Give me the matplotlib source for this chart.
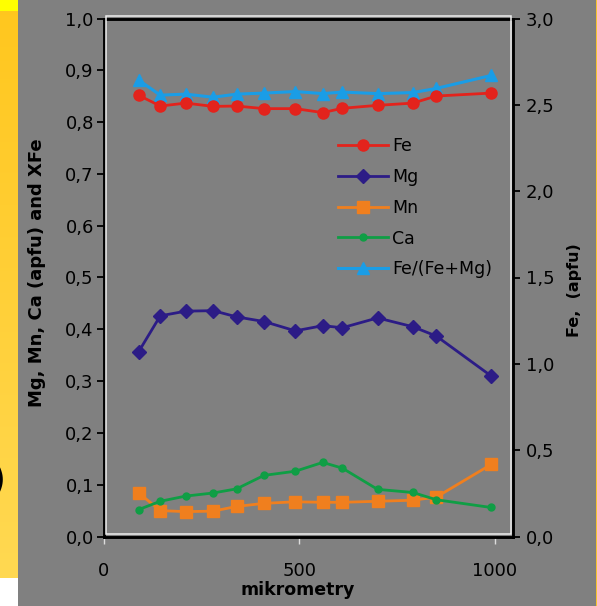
import matplotlib
matplotlib.use("Agg")
import matplotlib.pyplot as plt
import numpy as np
from matplotlib.lines import Line2D
from matplotlib.patches import Rectangle
from matplotlib.ticker import FuncFormatter, MultipleLocator

# ============================================================
# DATA (read from the profile)
# ============================================================

distance_um = [90, 145, 210, 280, 340, 410, 490, 560, 610, 700, 790, 850, 990]

fe_apfu = [2.555, 2.493, 2.510, 2.491, 2.493, 2.478, 2.478, 2.455, 2.480,
           2.497, 2.510, 2.551, 2.568]
mg_apfu = [0.357, 0.426, 0.435, 0.436, 0.424, 0.415, 0.397, 0.407, 0.403,
           0.422, 0.405, 0.387, 0.310]
mn_apfu = [0.084, 0.050, 0.048, 0.049, 0.058, 0.064, 0.067, 0.066, 0.066,
           0.068, 0.070, 0.076, 0.139]
ca_apfu = [0.052, 0.068, 0.078, 0.084, 0.092, 0.118, 0.126, 0.143, 0.132,
           0.091, 0.085, 0.071, 0.056]
xfe = [0.881, 0.852, 0.854, 0.848, 0.854, 0.856, 0.859, 0.855, 0.858,
       0.855, 0.857, 0.865, 0.890]

series_names = ["Fe", "Mg", "Mn", "Ca", "Fe/(Fe+Mg)"]

# ============================================================
# STYLE
# ============================================================

W, H = 597, 606
BG = "#808080"

RED = "#e3231c"
NAVY = "#2c1c86"
ORANGE = "#f07f1e"
GREEN = "#0f9e45"
SKY = "#1a9de6"


def fx(px):
    return px / W


def fy(py):
    return 1 - py / H


def comma(v, pos):
    return f"{v:.1f}".replace(".", ",")


fig = plt.figure(figsize=(W / 100, H / 100), dpi=100)
fig.patch.set_facecolor(BG)

# left slide strip (yellow gradient + white corner)
strip = fig.add_axes([0, fy(578), fx(18), (578 - 11) / H])
grad = np.linspace(0, 1, 256).reshape(-1, 1)
c_top = np.array([1.0, 0.78, 0.12])
c_bot = np.array([1.0, 0.85, 0.32])
img = c_top[None, None, :] * (1 - grad[:, :, None]) + c_bot[None, None, :] * grad[:, :, None]
strip.imshow(img, aspect="auto", extent=[0, 1, 0, 1])
strip.axis("off")
fig.patches.append(Rectangle((0, fy(11)), fx(18), 11 / H, transform=fig.transFigure,
                             facecolor="#ffff00", edgecolor="none"))
fig.patches.append(Rectangle((0, 0), fx(18), 28 / H, transform=fig.transFigure,
                             facecolor="white", edgecolor="none"))
fig.patches.append(Rectangle((fx(596), 0), fx(1), 1, transform=fig.transFigure,
                             facecolor="#f5c430", edgecolor="none"))
# edge of the slide text, cut off like in the source
fig.text(fx(6), fy(481), ")", ha="right", va="center", fontsize=28, color="black")

# ============================================================
# MAIN AXES
# ============================================================

left, right, top, bottom = 103.5, 513, 18.5, 536.5
ax = fig.add_axes([fx(left), fy(bottom), fx(right - left), (bottom - top) / H])
ax.set_facecolor(BG)
ax2 = ax.twinx()

ax.plot(distance_um, mg_apfu, color=NAVY, lw=2.0, marker="D", ms=7, zorder=3)
ax.plot(distance_um, mn_apfu, color=ORANGE, lw=2.0, marker="s", ms=8, zorder=3)
ax.plot(distance_um, ca_apfu, color=GREEN, lw=2.0, marker="o", ms=5, zorder=4)
ax.plot(distance_um, xfe, color=SKY, lw=2.2, marker="^", ms=9, zorder=5)
ax2.plot(distance_um, fe_apfu, color=RED, lw=2.0, marker="o", ms=8, zorder=3)

ax.set_xlim(0, 1046)
ax.set_ylim(0, 1.0)
ax2.set_ylim(0, 3.0)

ax.yaxis.set_major_locator(MultipleLocator(0.1))
ax2.yaxis.set_major_locator(MultipleLocator(0.5))
ax.yaxis.set_major_formatter(FuncFormatter(comma))
ax2.yaxis.set_major_formatter(FuncFormatter(comma))
ax.set_xticks([0, 500, 1000])

ax.tick_params(axis="y", direction="out", length=5, width=1.3, colors="black",
               labelsize=13, pad=2)
ax2.tick_params(axis="y", direction="out", length=5, width=1.3, colors="black",
                labelsize=13, pad=4)
ax.tick_params(axis="x", direction="out", length=5, width=1.0, color="#dcdcdc",
               labelcolor="black", labelsize=13, pad=13)

for a in (ax, ax2):
    for s in a.spines.values():
        s.set_color("black")
        s.set_linewidth(1.8)

# white inner frame of the plot area
fig.patches.append(Rectangle((fx(106), fy(533.5)), fx(511 - 106), (533.5 - 16) / H,
                             transform=fig.transFigure, fill=False,
                             edgecolor="#f0f0f0", linewidth=1.1, zorder=10))

# ============================================================
# LABELS
# ============================================================

fig.text(fx(298), fy(590), "mikrometry", ha="center", va="center",
         fontsize=12.5, fontweight="bold")
fig.text(fx(37), fy(273), "Mg, Mn, Ca (apfu) and XFe", ha="center", va="center",
         rotation=90, fontsize=13, fontweight="bold")
fig.text(fx(575), fy(290), "Fe,  (apfu)", ha="center", va="center",
         rotation=90, fontsize=11.5, fontweight="bold")

# ============================================================
# LEGEND
# ============================================================

handles = [
    Line2D([], [], color=RED, lw=2.0, marker="o", ms=8),
    Line2D([], [], color=NAVY, lw=2.0, marker="D", ms=7),
    Line2D([], [], color=ORANGE, lw=2.0, marker="s", ms=8),
    Line2D([], [], color=GREEN, lw=2.0, marker="o", ms=5),
    Line2D([], [], color=SKY, lw=2.2, marker="^", ms=9),
]

ax2.legend(handles, series_names, loc="upper left",
           bbox_to_anchor=(fx(338), fy(137)), bbox_transform=fig.transFigure,
           frameon=False, fontsize=12.5, handlelength=2.9, handletextpad=0.2,
           labelspacing=0.74, borderpad=0, borderaxespad=0)

fig.savefig("out.png", dpi=100, facecolor=fig.get_facecolor())
